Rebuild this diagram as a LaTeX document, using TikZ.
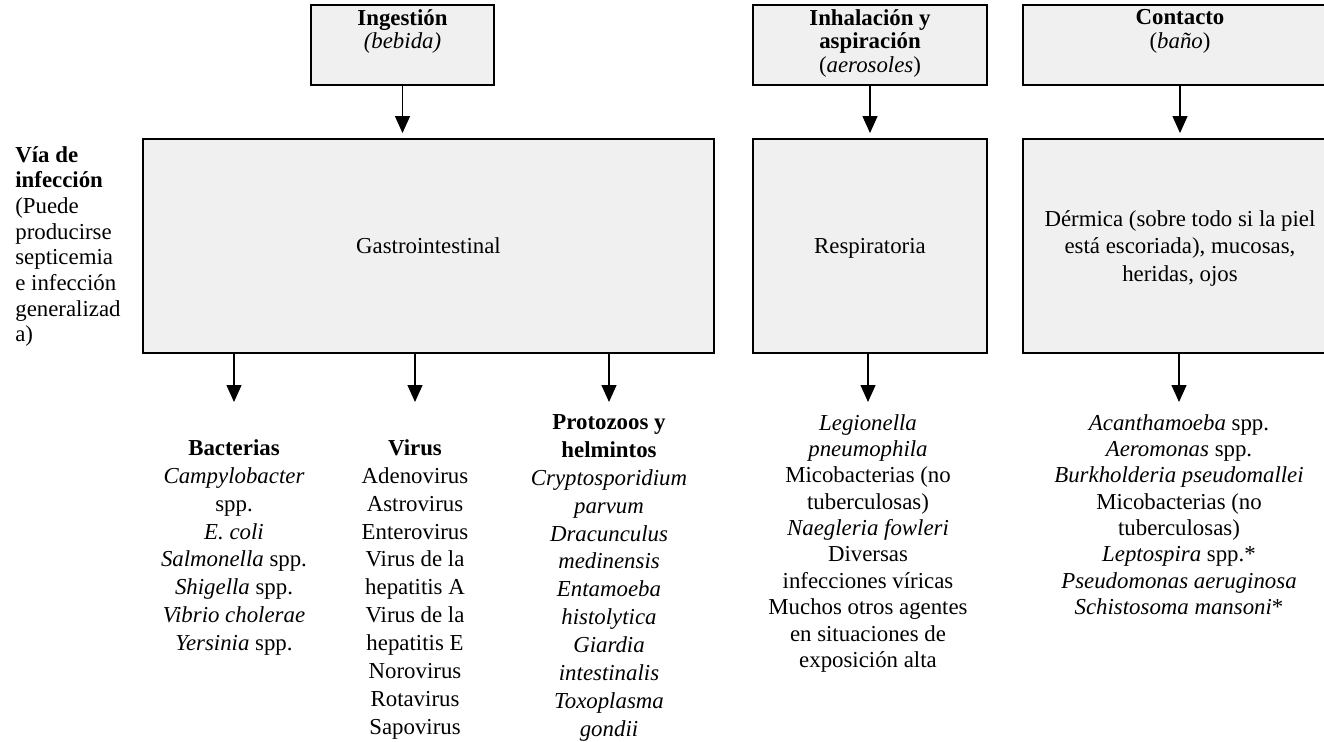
\documentclass[tikz,border=0pt]{standalone}
\usepackage{fontspec}
\setmainfont{Liberation Serif}
\usetikzlibrary{arrows.meta}
\definecolor{boxgray}{HTML}{F0F0F0}
\tikzset{
  srcbox/.style={draw=black, line width=1.1pt, fill=boxgray, minimum height=1.6cm, inner sep=0pt},
  srctext/.style={anchor=north, align=center, inner sep=0pt, font=\fontsize{13}{13.4}\selectfont},
  routebox/.style={draw=black, line width=1.1pt, fill=boxgray, minimum height=4.28cm, inner sep=0pt,
    text depth=0pt, align=center, font=\fontsize{13}{15.8}\selectfont},
  agents/.style={anchor=north, align=center, inner sep=0pt, font=\fontsize{13}{15.9}\selectfont},
  agentsb/.style={agents, font=\fontsize{13}{15}\selectfont},
  arr/.style={-{Triangle[width=0.3cm,length=0.34cm]}, line width=0.7pt},
}
\begin{document}
\begin{tikzpicture}[x=0.02cm, y=-0.02cm]
  \useasboundingbox (0,0) rectangle (1324,741);
  \clip (0,0) rectangle (1324,741);
  % Source boxes (top row)
  \node[srcbox, minimum width=3.66cm] (ing) at (402.5,45) {};
  \node[srcbox, minimum width=4.68cm] (inh) at (870,45) {};
  \node[srcbox, minimum width=6.28cm] (cnt) at (1180,45) {};
  \node[srctext] (ingtxt) at ([yshift=-0.1cm]ing.north) {\textbf{Ingestión}\\\textit{(bebida)}};
  \node[srctext] (inhtxt) at ([yshift=-0.1cm]inh.north) {\textbf{Inhalación y}\\\textbf{aspiración}\\(\textit{aerosoles})};
  \node[srctext] (cnttxt) at ([yshift=-0.1cm]cnt.north) {\textbf{Contacto}\\(\textit{baño})};
  % Route boxes
  \node[routebox, minimum width=11.42cm] (gas) at (428.5,246) {Gastrointestinal};
  \node[routebox, minimum width=4.68cm] (res) at (870,246) {Respiratoria};
  \node[routebox, minimum width=6.28cm] (der) at (1180,246) {Dérmica (sobre todo si la piel\\está escoriada), mucosas,\\heridas, ojos};
  % Side label
  \node[anchor=north west, align=left, inner sep=0pt, font=\fontsize{13}{14.6}\selectfont] (via) at (15,146)
    {\textbf{Vía de}\\\textbf{infección}\\(Puede\\producirse\\septicemia\\e infección\\generalizad\\a)};
  % Agents
  \node[agents] (bac) at (234,439) {\textbf{Bacterias}\\\textit{Campylobacter}\\spp.\\\textit{E. coli}\\\textit{Salmonella} spp.\\\textit{Shigella} spp.\\\textit{Vibrio cholerae}\\\textit{Yersinia} spp.};
  \node[agents] (vir) at (415,439) {\textbf{Virus}\\Adenovirus\\Astrovirus\\Enterovirus\\Virus de la\\hepatitis A\\Virus de la\\hepatitis E\\Norovirus\\Rotavirus\\Sapovirus};
  \node[agents] (pro) at (609,414) {\textbf{Protozoos y}\\\textbf{helmintos}\\\textit{Cryptosporidium}\\\textit{parvum}\\\textit{Dracunculus}\\\textit{medinensis}\\\textit{Entamoeba}\\\textit{histolytica}\\\textit{Giardia}\\\textit{intestinalis}\\\textit{Toxoplasma}\\\textit{gondii}};
  \node[agentsb] (leg) at (868,414) {\textit{Legionella}\\\textit{pneumophila}\\Micobacterias (no\\tuberculosas)\\\textit{Naegleria fowleri}\\Diversas\\infecciones víricas\\Muchos otros agentes\\en situaciones de\\exposición alta};
  \node[agentsb] (aca) at (1179,414) {\textit{Acanthamoeba} spp.\\\textit{Aeromonas} spp.\\\textit{Burkholderia pseudomallei}\\Micobacterias (no\\tuberculosas)\\\textit{Leptospira} spp.*\\\textit{Pseudomonas aeruginosa}\\\textit{Schistosoma mansoni}*};
  % Arrows
  \draw[arr, shorten >=0.1cm] (ing.south) -- (ing.south |- gas.north);
  \draw[arr, shorten >=0.1cm] (inh.south) -- (inh.south |- res.north);
  \draw[arr, shorten >=0.1cm] (cnt.south) -- (cnt.south |- der.north);
  \coordinate (tips) at (0,402);
  \draw[arr] (gas.south -| bac) -- (tips -| bac);
  \draw[arr] (gas.south -| vir) -- (tips -| vir);
  \draw[arr] (gas.south -| pro) -- (tips -| pro);
  \draw[arr] (res.south -| leg) -- (tips -| leg);
  \draw[arr] (der.south -| aca) -- (tips -| aca);
\end{tikzpicture}
\end{document}
